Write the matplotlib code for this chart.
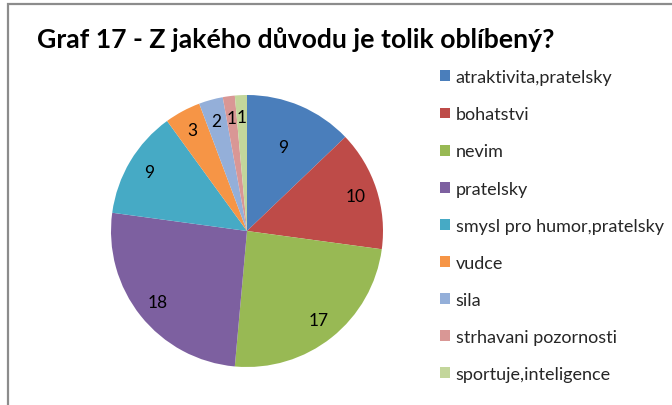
import matplotlib.pyplot as plt
from matplotlib.patches import Rectangle

title = "Graf 17 - Z jakého důvodu je tolik oblíbený?"
labels = ["atraktivita,pratelsky", "bohatstvi", "nevim", "pratelsky",
          "smysl pro humor,pratelsky", "vudce", "sila",
          "strhavani pozornosti", "sportuje,inteligence"]
values = [9, 10, 17, 18, 9, 3, 2, 1, 1]
colors = ["#4A7EBB", "#BE4B48", "#98B954", "#7D60A0", "#46AAC5",
          "#F69546", "#94AFD9", "#D99795", "#C3D69B"]

W, H = 672, 406
fig = plt.figure(figsize=(W / 100, H / 100), dpi=100)
plt.rcParams["font.family"] = ["Lato", "DejaVu Sans"]

# outer frame (cut off on the right and bottom in the original)
fig.patches.append(Rectangle((8 / W, -0.1), 1.1, 1 - 5 / H + 0.1,
                             transform=fig.transFigure, fill=False,
                             edgecolor="#8c8c8c", linewidth=1.6))

fig.text(37 / W, 1 - 40 / H, title, fontsize=19.2, fontweight="bold",
         va="center", ha="left", color="black")

cx, cy, r = 247, 232, 136
ax = fig.add_axes([(cx - r) / W, (H - cy - r) / H, 2 * r / W, 2 * r / H])
wedges, _, autotexts = ax.pie(values, colors=colors, startangle=90,
                              counterclock=False, pctdistance=0.84,
                              autopct=lambda p: "%d" % round(p * sum(values) / 100),
                              wedgeprops=dict(linewidth=0),
                              textprops=dict(fontsize=12.5, color="black"))
# first label sits a bit closer to the centre
x0, y0 = autotexts[0].get_position()
autotexts[0].set_position((x0 * 0.8, y0 * 0.8))
ax.set_aspect("equal")
ax.set_xlim(-1, 1)
ax.set_ylim(-1, 1)

leg = fig.legend(wedges, labels, loc="upper left",
                 bbox_to_anchor=(433 / W, 1 - 63 / H), frameon=False,
                 fontsize=13, handlelength=0.55, handleheight=0.55,
                 handletextpad=0.3, labelspacing=1.17, borderaxespad=0)
for t in leg.get_texts():
    t.set_color("#262626")

fig.savefig("out.png", dpi=100)
